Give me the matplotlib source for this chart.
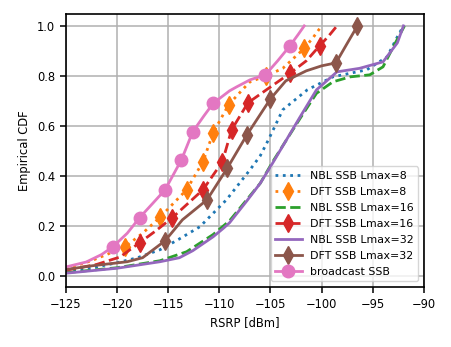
import matplotlib
matplotlib.use("Agg")
import matplotlib.pyplot as plt

# RSRP (dBm) / empirical CDF points
nbl8_x = [-125, -122, -120, -118, -115.8, -114, -111.9, -109.3, -107, -106, -105.2, -103.8, -101.4, -98.9, -95.6, -93.6, -92.6, -92.0]
nbl8_y = [0.02, 0.035, 0.052, 0.072, 0.104, 0.145, 0.196, 0.304, 0.424, 0.48, 0.544, 0.664, 0.744, 0.796, 0.824, 0.876, 0.956, 1.0]

dft8_x = [-125, -122.5, -121, -119.2, -117.5, -115.8, -113.2, -111.6, -110.6, -109.1, -107.5, -107, -105.4, -103.8, -101.7, -100.8, -100.0]
dft8_y = [0.028, 0.06, 0.085, 0.116, 0.17, 0.234, 0.344, 0.456, 0.572, 0.684, 0.755, 0.776, 0.80, 0.83, 0.91, 0.955, 1.0]
dft8_marks = [3, 5, 6, 7, 8, 9, 12, 14]

nbl16_x = [-125, -120, -115.8, -113.2, -110.6, -109, -107.3, -106, -104.8, -103.8, -102.1, -100.5, -98.9, -97.2, -95.3, -94, -93, -91.9]
nbl16_y = [0.012, 0.032, 0.06, 0.096, 0.165, 0.22, 0.305, 0.37, 0.455, 0.52, 0.63, 0.73, 0.776, 0.796, 0.804, 0.836, 0.916, 1.0]

dft16_x = [-125, -122, -119.7, -117.8, -116.2, -114.6, -111.6, -109.7, -108.8, -107.2, -105.4, -103.1, -101.5, -100.2, -99.3, -98.5]
dft16_y = [0.022, 0.045, 0.075, 0.132, 0.18, 0.232, 0.344, 0.456, 0.584, 0.692, 0.744, 0.81, 0.86, 0.92, 0.96, 1.0]
dft16_marks = [3, 5, 6, 7, 8, 9, 11, 13]

nbl32_x = [-125, -120, -115.8, -113.9, -112.6, -110.6, -109.6, -109, -107.3, -106, -104.8, -102.1, -100.5, -98.5, -96.3, -94, -92.6, -92.0]
nbl32_y = [0.01, 0.03, 0.056, 0.072, 0.10, 0.156, 0.19, 0.212, 0.30, 0.37, 0.45, 0.636, 0.744, 0.816, 0.83, 0.856, 0.932, 1.0]

dft32_x = [-125, -122.4, -119, -117.5, -115.3, -113.6, -111.2, -109.2, -107.3, -105.0, -103.5, -101.5, -100, -98.6, -97.5, -96.5]
dft32_y = [0.025, 0.04, 0.056, 0.072, 0.14, 0.224, 0.304, 0.432, 0.564, 0.708, 0.78, 0.82, 0.84, 0.852, 0.93, 1.0]
dft32_marks = [4, 6, 7, 8, 9, 13, 15]

bc_x = [-125, -123, -121.5, -120.4, -119, -117.8, -116.5, -115.3, -113.7, -112.6, -111.5, -110.6, -109, -108.3, -107, -105.5, -104.3, -103.1, -102.3, -101.7]
bc_y = [0.035, 0.055, 0.085, 0.116, 0.17, 0.232, 0.29, 0.344, 0.464, 0.576, 0.64, 0.69, 0.74, 0.756, 0.784, 0.804, 0.86, 0.92, 0.965, 1.0]
bc_marks = [3, 5, 7, 8, 9, 11, 15, 17]

x_ticks = [-125, -120, -115, -110, -105, -100, -95, -90]
y_ticks = [0.0, 0.2, 0.4, 0.6, 0.8, 1.0]

fig = plt.figure(figsize=(4.51, 3.47), dpi=100)
ax = fig.add_axes([0.146, 0.173, 0.794, 0.787])

lw = 2
ms = 9
ax.plot(nbl8_x, nbl8_y, ':', color='C0', lw=lw, label='NBL SSB Lmax=8')
ax.plot(dft8_x, dft8_y, ':', color='C1', lw=lw, marker='d', ms=ms, markevery=dft8_marks, label='DFT SSB Lmax=8')
ax.plot(nbl16_x, nbl16_y, '--', color='C2', lw=lw, label='NBL SSB Lmax=16')
ax.plot(dft16_x, dft16_y, '--', color='C3', lw=lw, marker='d', ms=ms, markevery=dft16_marks, label='DFT SSB Lmax=16')
ax.plot(nbl32_x, nbl32_y, '-', color='C4', lw=lw, label='NBL SSB Lmax=32')
ax.plot(dft32_x, dft32_y, '-', color='C5', lw=lw, marker='d', ms=ms, markevery=dft32_marks, label='DFT SSB Lmax=32')
ax.plot(bc_x, bc_y, '-', color='C6', lw=lw, marker='o', ms=ms, markevery=bc_marks, label='broadcast SSB')

ax.set_xlim(-125, -90)
ax.set_ylim(-0.045, 1.048)
ax.set_xticks(x_ticks)
ax.set_yticks(y_ticks)
ax.tick_params(labelsize=8.3, length=4.2, width=1.1)
for s in ax.spines.values():
    s.set_linewidth(1.2)
ax.grid(True, color='#b0b0b0', lw=1.1)
ax.set_xlabel('RSRP [dBm]', fontsize=8.3)
ax.set_ylabel('Empirical CDF', fontsize=8.3)
ax.legend(loc='lower right', fontsize=7.9, handlelength=2.4, labelspacing=0.55)

fig.savefig('out.png', dpi=100)
